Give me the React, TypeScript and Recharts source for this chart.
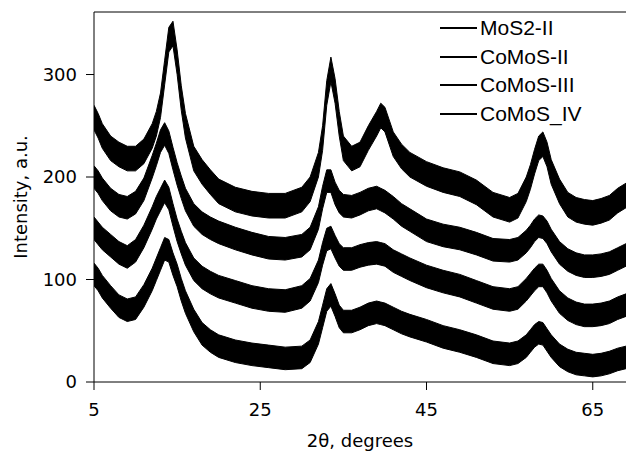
import React from 'react';
import {
  ComposedChart,
  Area,
  XAxis,
  YAxis,
  Legend,
  ReferenceLine,
  Label
} from 'recharts';

// 2θ positions (degrees) where the traces were read
const ANGLES = [
  5, 5.5, 6, 7, 8, 9, 10, 11, 12, 12.5, 13, 13.5, 14, 14.5, 15, 15.5, 16, 17, 18, 19, 20, 22, 24, 26,
  28, 30, 31, 32, 32.5, 33, 33.5, 34, 34.5, 35, 36, 37, 38, 39, 39.5, 40, 41, 42, 43, 45, 47, 49, 51,
  53, 55, 56, 57, 57.5, 58, 58.5, 59, 59.5, 60, 61, 62, 63, 64, 65, 66, 67, 68, 69
];

// mid-line of each noisy trace, a.u.
const MOS2_II = [
  258, 250, 240, 228, 222, 218, 218, 225, 240, 252, 270, 302, 334, 340, 312, 277, 250, 218, 205, 195, 186, 178, 174, 172,
  172, 178, 188, 212, 238, 282, 305, 284, 252, 228, 218, 222, 238, 252, 260, 256, 232, 220, 212, 203, 197, 193, 185,
  173, 168, 172, 188, 200, 215, 228, 232, 222, 205, 186, 173, 168, 166, 165, 167, 170, 177, 182
];
const COMOS_II = [
  200, 195, 188, 178, 172, 170, 175, 188, 210, 222, 235, 242, 234, 218, 203, 190, 178, 163, 155, 150, 146, 140, 135, 131,
  130, 133, 140, 160, 180, 196, 196, 184, 176, 172, 171, 174, 178, 180, 178, 176, 170, 163, 158, 148, 143, 140, 135,
  129, 128, 130, 137, 142, 148, 152, 151, 146, 138, 126, 119, 115, 113, 113, 114, 116, 120, 124
];
const COMOS_III = [
  150, 145, 140, 133, 126, 122, 128, 142, 160, 170, 178, 186, 179, 163, 148, 136, 125, 110, 102, 97, 93, 88, 83, 80,
  79, 83, 90, 108, 125, 139, 141, 132, 124, 120, 120, 123, 125, 126, 125, 124, 118, 114, 110, 103, 98, 94, 88,
  82, 80, 82, 90, 95, 100, 104, 104, 98, 90, 78, 71, 67, 65, 65, 66, 68, 72, 75
];
const COMOS_IV = [
  105, 100, 93, 83, 74, 70, 72, 84, 100, 110, 120, 130, 128, 115, 104, 90, 78, 60, 47, 40, 35, 30, 27, 25,
  23, 24, 30, 48, 64, 80, 85, 75, 64, 59, 59, 62, 66, 68, 67, 66, 62, 58, 55, 50, 44, 40, 35,
  29, 27, 29, 35, 40, 45, 48, 47, 41, 35, 26, 21, 18, 17, 16, 17, 19, 22, 24
];

const SERIES_NAMES = ['MoS2-II', 'CoMoS-II', 'CoMoS-III', 'CoMoS_IV'];
const SERIES_VALUES = [MOS2_II, COMOS_II, COMOS_III, COMOS_IV];
// half height of the noise band of each trace, a.u.
const NOISE = [12, 11, 11, 11];

const X_TICKS = [5, 25, 45, 65];
const Y_TICKS = [0, 100, 200, 300];

const rows = ANGLES.map((x, i) => {
  const row: any = { x };
  SERIES_VALUES.forEach((vals, s) => {
    row['s' + s] = [vals[i] - NOISE[s], vals[i] + NOISE[s]];
  });
  return row;
});

const tickStyle = { fill: '#000', fontSize: 18, fontFamily: 'DejaVu Sans' };

const LegendBox = () => (
  <div style={{ fontFamily: 'Liberation Sans', fontSize: 21, color: '#000' }}>
    {SERIES_NAMES.map(name => (
      <div key={name} style={{ display: 'flex', alignItems: 'center', height: 28.5 }}>
        <div style={{ width: 37, height: 2, background: '#000', marginRight: 3 }} />
        <span style={{ lineHeight: '28.5px' }}>{name}</span>
      </div>
    ))}
  </div>
);

const App: React.FC = () => {
  return (
    <div style={{ position: 'absolute', left: 0, top: 0, width: 626, height: 453, background: '#fff' }}>
      <ComposedChart
        width={626}
        height={453}
        data={rows}
        margin={{ top: 12, right: 0, left: 0, bottom: 0 }}
      >
        <XAxis
          dataKey="x"
          type="number"
          domain={[5, 69]}
          ticks={X_TICKS}
          allowDataOverflow
          height={71}
          tickSize={8}
          tickMargin={13}
          stroke="#000"
          tick={tickStyle}
        >
          <Label
            value="2θ, degrees"
            position="insideBottom"
            offset={6}
            style={{ fill: '#000', fontSize: 18, fontFamily: 'DejaVu Sans' }}
          />
        </XAxis>
        <YAxis
          type="number"
          domain={[0, 361]}
          ticks={Y_TICKS}
          allowDataOverflow
          width={94}
          tickSize={8}
          tickMargin={9}
          stroke="#000"
          tick={tickStyle}
        >
          <Label
            value="Intensity, a.u."
            angle={-90}
            position="insideLeft"
            offset={21}
            style={{ fill: '#000', fontSize: 18, fontFamily: 'DejaVu Sans', textAnchor: 'middle' }}
          />
        </YAxis>
        <ReferenceLine y={361} stroke="#000" strokeWidth={1} />
        <Legend
          layout="vertical"
          align="center"
          verticalAlign="middle"
          content={() => <LegendBox />}
          wrapperStyle={{ left: 440, top: 14, width: 'auto' }}
        />
        {SERIES_NAMES.map((name, s) => (
          <Area
            key={name}
            name={name}
            type="linear"
            dataKey={'s' + s}
            stroke="#000"
            strokeWidth={1}
            fill="#000"
            fillOpacity={1}
            dot={false}
            activeDot={false}
            isAnimationActive={false}
          />
        ))}
      </ComposedChart>
    </div>
  );
};

export default App;
